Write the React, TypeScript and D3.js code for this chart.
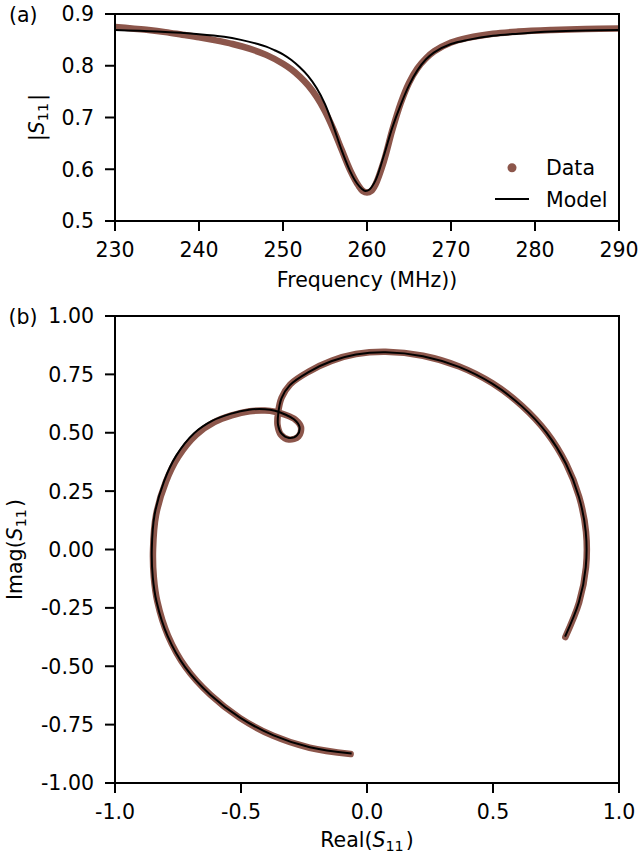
import * as React from "react";
import * as d3 from "d3";

// (a) |S11| vs frequency
const freqData = [230, 232, 234, 236, 238, 240, 242, 244, 246, 248, 250, 251, 252, 253, 254, 255, 256, 257, 258, 259, 259.5, 260, 260.5, 261, 262, 263, 264, 265, 266, 267, 268, 270, 272, 275, 278, 282, 286, 290];
const magData = [0.875, 0.872, 0.869, 0.865, 0.86, 0.855, 0.849, 0.842, 0.833, 0.821, 0.804, 0.793, 0.779, 0.762, 0.74, 0.712, 0.677, 0.637, 0.598, 0.568, 0.558, 0.555, 0.558, 0.57, 0.615, 0.675, 0.727, 0.767, 0.795, 0.814, 0.828, 0.845, 0.854, 0.862, 0.866, 0.869, 0.871, 0.872];

const freqModel = [230, 235, 240, 243, 245, 247, 248, 249, 250, 251, 252, 253, 254, 255, 256, 257, 258, 258.8, 259.4, 259.8, 260.3, 261, 262, 263, 264, 265, 266, 267, 268, 270, 272, 275, 278, 282, 286, 290];
const magModel = [0.869, 0.866, 0.861, 0.856, 0.85, 0.842, 0.837, 0.83, 0.822, 0.811, 0.797, 0.78, 0.757, 0.726, 0.683, 0.636, 0.596, 0.573, 0.562, 0.558, 0.561, 0.578, 0.626, 0.68, 0.724, 0.762, 0.791, 0.812, 0.826, 0.842, 0.85, 0.858, 0.862, 0.866, 0.868, 0.869];

// (b) Imag vs Real
const reData = [-0.065, -0.228, -0.372, -0.505, -0.622, -0.72, -0.79, -0.832, -0.846, -0.849, -0.837, -0.798, -0.749, -0.678, -0.606, -0.537, -0.466, -0.405, -0.365, -0.322, -0.284, -0.262, -0.272, -0.31, -0.342, -0.355, -0.353, -0.339, -0.305, -0.231, -0.141, -0.044, 0.074, 0.222, 0.366, 0.498, 0.615, 0.714, 0.79, 0.842, 0.869, 0.869, 0.842, 0.787];
const imData = [-0.876, -0.849, -0.798, -0.721, -0.622, -0.504, -0.368, -0.223, -0.118, 0.0, 0.148, 0.29, 0.397, 0.491, 0.545, 0.574, 0.592, 0.595, 0.59, 0.576, 0.556, 0.524, 0.484, 0.471, 0.492, 0.533, 0.585, 0.65, 0.707, 0.762, 0.808, 0.837, 0.847, 0.83, 0.784, 0.712, 0.615, 0.5, 0.368, 0.225, 0.076, -0.076, -0.226, -0.375];

const reModel = [-0.061, -0.227, -0.371, -0.504, -0.622, -0.721, -0.792, -0.835, -0.85, -0.854, -0.843, -0.805, -0.757, -0.686, -0.613, -0.542, -0.468, -0.405, -0.365, -0.325, -0.29, -0.268, -0.277, -0.31, -0.339, -0.353, -0.352, -0.339, -0.306, -0.232, -0.142, -0.044, 0.074, 0.222, 0.365, 0.497, 0.614, 0.713, 0.789, 0.841, 0.868, 0.868, 0.841, 0.786];
const imModel = [-0.874, -0.847, -0.796, -0.72, -0.622, -0.505, -0.369, -0.224, -0.119, 0.0, 0.149, 0.293, 0.402, 0.498, 0.552, 0.581, 0.599, 0.601, 0.594, 0.578, 0.558, 0.526, 0.49, 0.478, 0.496, 0.533, 0.583, 0.648, 0.704, 0.76, 0.806, 0.835, 0.845, 0.828, 0.782, 0.71, 0.614, 0.499, 0.368, 0.225, 0.076, -0.076, -0.225, -0.373];

const ticksA_x = [230, 240, 250, 260, 270, 280, 290];
const ticksA_y = [0.5, 0.6, 0.7, 0.8, 0.9];
const ticksB_x = [-1, -0.5, 0, 0.5, 1];
const ticksB_y = [-1, -0.75, -0.5, -0.25, 0, 0.25, 0.5, 0.75, 1];

const BROWN = "#8c564b";
const FONT = "DejaVu Sans, sans-serif";
const FS = 20.5;

const fmt = (v: number, d: number) => v.toFixed(d);

// italic S with subscript 11
const S11 = () => (
  <>
    <tspan fontStyle="italic">S</tspan>
    <tspan fontSize={FS * 0.7} dy={4}>11</tspan>
    <tspan dy={-4}>{"\u200a"}</tspan>
  </>
);

export default function App() {
  const W = 641, H = 859;
  const left = 115, right = 619;

  const xA = d3.scaleLinear().domain([230, 290]).range([left, right]);
  const yA = d3.scaleLinear().domain([0.5, 0.9]).range([221, 14]);
  const xB = d3.scaleLinear().domain([-1, 1]).range([left, right]);
  const yB = d3.scaleLinear().domain([-1, 1]).range([783, 316]);

  const curve = d3.curveCatmullRom.alpha(0.5);
  const lineA = d3.line<[number, number]>().x(d => xA(d[0])).y(d => yA(d[1])).curve(curve);
  const lineB = d3.line<[number, number]>().x(d => xB(d[0])).y(d => yB(d[1])).curve(curve);

  const dataA = lineA(freqData.map((f, i) => [f, magData[i]]));
  const modelA = lineA(freqModel.map((f, i) => [f, magModel[i]]));
  const dataB = lineB(reData.map((r, i) => [r, imData[i]]));
  const modelB = lineB(reModel.map((r, i) => [r, imModel[i]]));

  const axis = (
    x: d3.ScaleLinear<number, number>,
    y: d3.ScaleLinear<number, number>,
    xt: number[],
    yt: number[],
    xd: number,
    yd: number
  ) => {
    const [y0, y1] = y.range();
    return (
      <g>
        {xt.map(t => (
          <g key={"x" + t}>
            <line x1={x(t)} x2={x(t)} y1={y0} y2={y0 + 10} stroke="#000" strokeWidth={2} />
            <text x={x(t)} y={y0 + 35.5} textAnchor="middle" fontSize={FS}>{fmt(t, xd)}</text>
          </g>
        ))}
        {yt.map(t => (
          <g key={"y" + t}>
            <line x1={left - 10} x2={left} y1={y(t)} y2={y(t)} stroke="#000" strokeWidth={2} />
            <text x={94} y={y(t)} dy="0.36em" textAnchor="end" fontSize={FS}>{fmt(t, yd)}</text>
          </g>
        ))}
        <rect x={left} y={y1} width={right - left} height={y0 - y1} fill="none" stroke="#000" strokeWidth={2} />
      </g>
    );
  };

  return (
    <svg width={W} height={H} style={{ position: "absolute", left: 0, top: 0 }} fontFamily={FONT}>
      <rect width={W} height={H} fill="#fff" />
      <defs>
        <clipPath id="clipA"><rect x={left} y={14} width={right - left} height={207} /></clipPath>
      </defs>

      {/* panel (a) */}
      <g clipPath="url(#clipA)">
        <path d={dataA ?? ""} fill="none" stroke={BROWN} strokeWidth={6.5} strokeLinecap="round" strokeLinejoin="round" />
        <path d={modelA ?? ""} fill="none" stroke="#000" strokeWidth={2} />
      </g>
      {axis(xA, yA, ticksA_x, ticksA_y, 0, 1)}
      <text x={9} y={21.5} fontSize={FS}>(a)</text>
      <text x={367} y={287} textAnchor="middle" fontSize={FS}>Frequency (MHz))</text>
      <text transform="translate(44,117.5) rotate(-90)" textAnchor="middle" fontSize={FS}>
        |<S11 />|
      </text>
      <circle cx={512} cy={167.7} r={4.5} fill={BROWN} />
      <text x={546} y={175} fontSize={FS}>Data</text>
      <line x1={495} x2={529} y1={199} y2={199} stroke="#000" strokeWidth={2} />
      <text x={546} y={206.5} fontSize={FS}>Model</text>

      {/* panel (b) */}
      <path d={dataB ?? ""} fill="none" stroke={BROWN} strokeWidth={6.5} strokeLinecap="round" strokeLinejoin="round" />
      <path d={modelB ?? ""} fill="none" stroke="#000" strokeWidth={2} />
      {axis(xB, yB, ticksB_x, ticksB_y, 1, 2)}
      <text x={8.5} y={323.5} fontSize={FS}>(b)</text>
      <text x={367} y={847} textAnchor="middle" fontSize={FS}>
        Real(<S11 />)
      </text>
      <text transform="translate(22,549.5) rotate(-90)" textAnchor="middle" fontSize={FS}>
        Imag(<S11 />)
      </text>
    </svg>
  );
}
